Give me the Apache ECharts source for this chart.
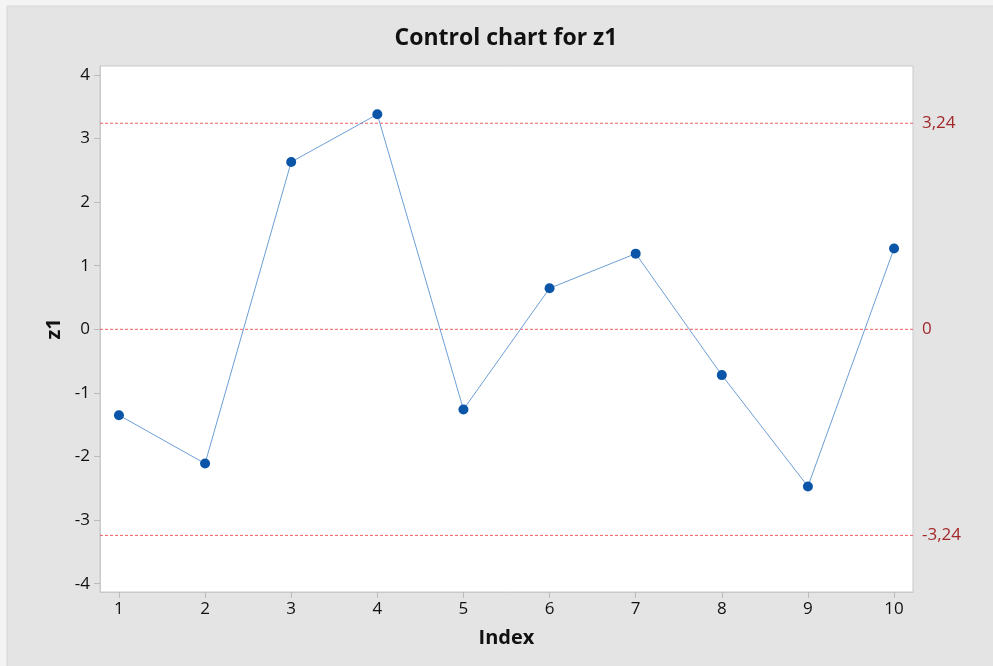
<!DOCTYPE html>
<html>
<head>
<meta charset="utf-8">
<script src="https://cdn.jsdelivr.net/npm/echarts@6/dist/echarts.min.js"></script>
<style>
  html, body { margin: 0; padding: 0; background: #f4f4f4; }
  #chart { width: 993px; height: 666px; }
</style>
</head>
<body>
<div id="chart"></div>
<script>
// Observation index and standardized values
const indexValues = [1, 2, 3, 4, 5, 6, 7, 8, 9, 10];
const z1Values = [-1.35, -2.11, 2.63, 3.38, -1.26, 0.645, 1.19, -0.72, -2.47, 1.27];
// Control limits and their labels
const limitValues = [3.24, 0, -3.24];
const limitLabels = ['3,24', '0', '-3,24'];
// Tick values for both axes
const xTicks = [1, 2, 3, 4, 5, 6, 7, 8, 9, 10];
const yTicks = [-4, -3, -2, -1, 0, 1, 2, 3, 4];

const X_MIN = 0.78, X_MAX = 10.22;
const FONT = '"Open Sans", "Noto Sans", sans-serif';
const LIMIT_COLOR = '#f25f5f';
const chart = echarts.init(document.getElementById('chart'));

// Horizontal dashed line across the plot for each control limit, labelled at its right end
const limitSeries = limitValues.map((v, i) => ({
  type: 'line',
  data: [[X_MIN, v], [X_MAX, v]],
  symbol: 'none',
  silent: true,
  z: 1,
  lineStyle: { color: LIMIT_COLOR, type: [3, 2], width: 1 },
  endLabel: {
    show: true,
    distance: 9,
    fontFamily: FONT,
    fontSize: 17,
    color: '#a3282a',
    formatter: () => limitLabels[i]
  }
}));

chart.setOption({
  backgroundColor: '#f4f4f4',
  animation: false,
  graphic: [{
    type: 'rect',
    shape: { x: 7, y: 6, width: 1000, height: 680 },
    style: { fill: '#e4e4e4', stroke: '#d6d6d6', lineWidth: 1 },
    z: -10
  }],
  title: {
    text: 'Control chart for z1',
    left: 501,
    top: 22,
    textAlign: 'center',
    textStyle: { fontFamily: FONT, fontSize: 23, fontWeight: 'bold', color: '#111' }
  },
  grid: {
    left: 100, top: 66, width: 813, height: 526,
    show: true, backgroundColor: '#ffffff', borderColor: '#c9c9c9', borderWidth: 1
  },
  xAxis: {
    type: 'value',
    min: X_MIN, max: X_MAX,
    name: 'Index',
    nameLocation: 'middle',
    nameGap: 36,
    nameTextStyle: { fontFamily: FONT, fontSize: 20, fontWeight: 'bold', color: '#111' },
    axisLine: { show: true, onZero: false, lineStyle: { color: '#c9c9c9' } },
    axisTick: { show: true, length: 6, lineStyle: { color: '#bbbbbb' }, customValues: xTicks },
    axisLabel: { customValues: xTicks, fontFamily: FONT, fontSize: 17, color: '#111', margin: 9 },
    splitLine: { show: false }
  },
  yAxis: {
    type: 'value',
    min: -4.13, max: 4.14,
    name: 'z1',
    nameLocation: 'middle',
    nameGap: 36,
    nameRotate: 90,
    nameTextStyle: { fontFamily: FONT, fontSize: 20, fontWeight: 'bold', color: '#111' },
    axisLine: { show: true, onZero: false, lineStyle: { color: '#c9c9c9' } },
    axisTick: { show: true, length: 6, lineStyle: { color: '#bbbbbb' }, customValues: yTicks },
    axisLabel: { customValues: yTicks, fontFamily: FONT, fontSize: 17, color: '#111', margin: 10 },
    splitLine: { show: false }
  },
  series: limitSeries.concat([{
    type: 'line',
    data: indexValues.map((x, i) => [x, z1Values[i]]),
    symbol: 'circle',
    symbolSize: 10,
    lineStyle: { color: '#6d9fd6', width: 1 },
    itemStyle: { color: '#0a55a8' },
    z: 3
  }])
});
</script>
</body>
</html>
